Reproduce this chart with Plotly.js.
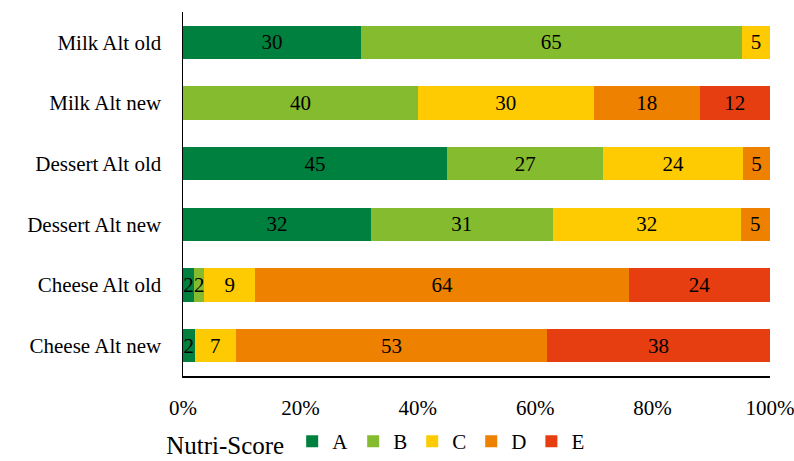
<!DOCTYPE html>
<html><head><meta charset="utf-8">
<script src="https://cdn.plot.ly/plotly-3.0.1.min.js"></script>
<style>body{margin:0;background:#fff}#c{width:794px;height:461px}</style>
</head><body><div id="c"></div>
<script>
const categories = ["Milk Alt old","Milk Alt new","Dessert Alt old","Dessert Alt new","Cheese Alt old","Cheese Alt new"];
const scoreA = [30.3, 0, 45.0, 32, 1.9, 2];
const scoreB = [64.9, 40, 26.6, 31, 1.7, 0];
const scoreC = [4.8, 30, 23.8, 32, 8.7, 7];
const scoreD = [0, 18, 4.6, 5, 63.7, 53];
const scoreE = [0, 12, 0, 0, 24.0, 38];
const names = ["A","B","C","D","E"];
const colors = ["#00803e","#85bb2f","#fecb02","#ee8100","#e63e11"];
const xTickVals = [0, 20, 40, 60, 80, 100];
const xTickText = ["0%","20%","40%","60%","80%","100%"];
const series = [scoreA, scoreB, scoreC, scoreD, scoreE];
const FONT = "Liberation Serif, serif";
const traces = series.map((vals, i) => ({
  type: "bar", orientation: "h", name: names[i],
  y: categories, x: vals,
  marker: {color: colors[i]},
  text: vals.map(v => v > 0 ? String(Math.round(v)) : ""),
  textposition: "inside", insidetextanchor: "middle",
  textfont: {family: FONT, size: 21, color: "#000"},
  constraintext: "none", hoverinfo: "none"
}));
const layout = {
  barmode: "stack", bargap: 0.45,
  width: 794, height: 461,
  margin: {l: 183, r: 24, t: 12, b: 85, autoexpand: false},
  paper_bgcolor: "#fff", plot_bgcolor: "#fff",
  font: {family: FONT, size: 21, color: "#000"},
  xaxis: {range: [0, 100], tickmode: "array", tickvals: xTickVals, ticktext: xTickText,
    showgrid: false, zeroline: false, showline: true, linecolor: "#000", linewidth: 1.5,
    ticks: "", ticklabelstandoff: 12, ticklabeloverflow: "allow", fixedrange: true, automargin: false},
  yaxis: {categoryorder: "array", categoryarray: categories, autorange: "reversed",
    showgrid: false, zeroline: false, showline: true, linecolor: "#000", linewidth: 1.5,
    ticks: "", ticklabelstandoff: 16, fixedrange: true, automargin: false},
  showlegend: true,
  legend: {orientation: "h", xref: "container", yref: "container", x: 0.475, xanchor: "center",
    y: 0.04, yanchor: "middle",
    title: {text: "Nutri-Score", side: "left"}, traceorder: "normal",
    font: {family: FONT, size: 21}, itemwidth: 30}
};
Plotly.newPlot("c", traces, layout, {displayModeBar: false, staticPlot: true});
</script></body></html>
